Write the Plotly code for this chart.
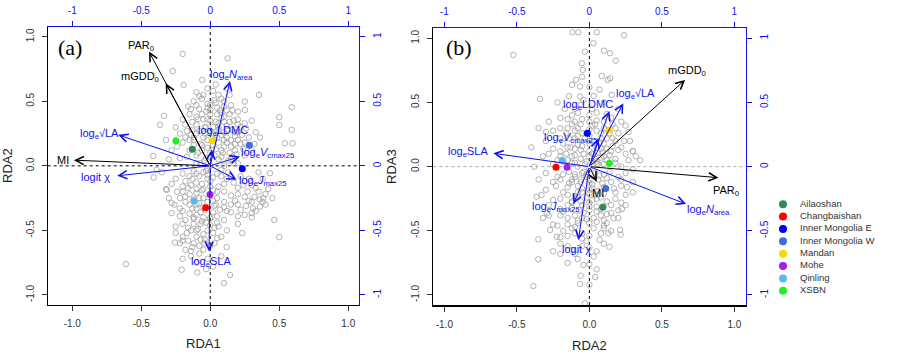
import plotly.graph_objects as go

W, H = 899, 364

# ---------------- data ----------------
sites = ["Ailaoshan", "Changbaishan", "Inner Mongolia E", "Inner Mongolia W",
         "Mandan", "Mohe", "Qinling", "XSBN"]
site_colors = ["#2E8B57", "#FF0000", "#0000FF", "#4169E1",
               "#FFD700", "#A020F0", "#5CB8F5", "#22EE22"]

site_a_x = [-0.130, -0.033, 0.232, 0.283, 0.012, -0.002, -0.118, -0.249]
site_a_y = [0.129, -0.325, -0.023, 0.160, 0.194, -0.222, -0.273, 0.194]
site_b_x = [0.092, -0.230, -0.014, 0.113, 0.138, -0.154, -0.188, 0.138]
site_b_y = [-0.317, -0.005, 0.260, -0.171, 0.286, -0.005, 0.047, 0.026]

# arrows (biplot scores) panel a: RDA1 vs RDA2
env_a_labels = ["PAR<sub>0</sub>", "mGDD<sub>0</sub>", "MI"]
env_a_x = [-0.444, -0.323, -0.988]
env_a_y = [0.885, 0.640, 0.044]
trait_a_labels = ["log<sub>e</sub>√LA", "logit χ", "log<sub>e</sub><i>N</i><sub>area</sub>",
                  "log<sub>e</sub>LDMC", "log<sub>e</sub><i>V</i><sub>cmax25</sub>",
                  "log<sub>e</sub><i>J</i><sub>max25</sub>", "log<sub>e</sub>SLA"]
trait_a_x = [-0.667, -0.674, 0.143, 0.012, 0.215, 0.191, -0.009]
trait_a_y = [0.240, -0.077, 0.658, 0.127, 0.072, -0.108, -0.663]

# arrows panel b: RDA2 vs RDA3
env_b_labels = ["mGDD<sub>0</sub>", "PAR<sub>0</sub>", "MI"]
env_b_x = [0.660, 0.890, 0.051]
env_b_y = [0.676, -0.086, -0.117]
trait_b_labels = ["log<sub>e</sub>SLA", "log<sub>e</sub><i>N</i><sub>area</sub>",
                  "log<sub>e</sub><i>J</i><sub>max25</sub>", "logit χ",
                  "log<sub>e</sub><i>V</i><sub>cmax25</sub>", "log<sub>e</sub>LDMC",
                  "log<sub>e</sub>√LA"]
trait_b_x = [-0.662, 0.667, -0.110, -0.076, 0.062, 0.138, 0.234]
trait_b_y = [0.104, -0.291, -0.291, -0.571, 0.221, 0.434, 0.494]

# sample scores (grey circles), panel a
cloud_a_x = [
    -0.20, 0.126, -0.272, -0.193, -0.058, 0.353, 0.59, -0.335, 0.5, 0.5, 0.251, 0.251, -0.364, 0.59, 0.541, 0.597,
    -0.413, -0.389, -0.41, -0.316, -0.28, -0.28, -0.256, -0.611, -0.207, -0.094, 0.143, 0.099, 0.119, 0.232, 0.5,
    0.464, 0.384, 0.433, 0.36, 0.30,
    -0.05, 0.02, 0.08, -0.12, 0.12, -0.02, 0.05, 0.15, -0.08, 0.2, -0.15, 0.0, 0.1, -0.2, -0.05, 0.06, 0.17, 0.25,
    -0.1, -0.25, 0.02, 0.12, -0.17, 0.2, -0.04, 0.08, 0.28, -0.12, 0.15, 0.03, -0.2, 0.22, -0.07, 0.1, 0.3, -0.15,
    0.18, 0.0, 0.25, -0.1, 0.08, -0.22, 0.15, -0.04, 0.2, -0.3, 0.33, 0.3, -0.32, 0.14,
    -0.05, 0.05, -0.15, 0.15, -0.25, 0.0, -0.1, 0.1, 0.25, -0.2, 0.2, 0.3, -0.05, 0.05, -0.15, 0.35, 0.15, 0.25,
    -0.08, -0.22, 0.02, 0.1, 0.3, -0.15, 0.2, -0.05, 0.4, 0.07, -0.2, 0.15, -0.1, 0.25, 0.0, -0.18, 0.1, -0.07,
    0.2, -0.25, 0.03, -0.14, 0.12, -0.05, -0.2, 0.05, -0.12, 0.0, -0.08, -0.18, 0.08, -0.1, -0.03, 0.45, 0.33,
    0.38, 0.42,
    -0.1, 0.0, 0.1, -0.06, 0.04, 0.14, -0.12, 0.06, -0.02, 0.12, -0.08, 0.0, 0.16, 0.06, -0.13, 0.1, 0.0, -0.06,
    0.05, -0.02, 0.1, 0.03, -0.1, 0.18, 0.22, -0.18, -0.02, -0.12, 0.08, -0.02, -0.18, 0.12, -0.1, 0.0, 0.1, -0.2,
    -0.12, 0.05, -0.02, 0.18, -0.1, 0.02, -0.15, 0.1, -0.05, 0.05, -0.12, -0.02, 0.08, -0.1, -0.16, -0.04, 0.27,
    0.32, 0.22, 0.28, 0.35, 0.22, 0.38, 0.3,
    -0.03, 0.03, 0.09, -0.09, 0.15, 0.2, 0.25, 0.12, 0.05, -0.05, -0.15, -0.22, -0.1, 0.02, 0.1, 0.18, 0.23,
    -0.03, 0.04, 0.12, -0.09, -0.18, 0.08, -0.03, 0.07, 0.0, -0.06, 0.06, -0.14, 0.16, 0.1, -0.02, 0.04, -0.1,
    0.14, 0.2, 0.26, 0.19, 0.24, -0.17, -0.13, -0.24, -0.28, 0.32, 0.36, -0.02, 0.08, 0.13, -0.07, 0.17,
    -0.03, -0.08, -0.2, 0.02, -0.13, -0.28, -0.06, 0.06, -0.16, -0.24, -0.1, 0.0, -0.05, -0.18, -0.26, -0.08,
    0.03, -0.13, -0.22, -0.07, 0.05, -0.12, -0.2, -0.03, 0.0, -0.09, -0.17, -0.25, 0.02, -0.07, -0.13, -0.22,
    -0.05, 0.03, -0.14, -0.02, -0.2, 0.02, 0.12, 0.17, 0.2, 0.24, 0.28, 0.33, 0.36, 0.26, 0.15, 0.31, 0.2, 0.08,
    0.13, 0.4, -0.32, -0.35, -0.3,
    -0.06, 0.02, 0.1, -0.14, 0.18, -0.04, 0.06, 0.14, -0.1, 0.0, 0.08, -0.16, 0.04, -0.08, 0.12, -0.02, 0.2,
    -0.12, 0.06, 0.16, -0.1, -0.02, -0.14, -0.06, 0.02, -0.18, -0.1, -0.04, -0.22, 0.04, -0.12, -0.06, -0.16,
    0.0, -0.1, -0.2, 0.06, -0.04, -0.14, -0.08,
]
cloud_a_y = [
    0.867, 0.833, 0.735, 0.627, 0.666, 0.55, 0.454, 0.387, 0.377, 0.317, 0.498, 0.433, 0.317, 0.279, 0.175, 0.175,
    0.077, -0.031, -0.09, -0.186, -0.289, -0.366, -0.594, -0.761, -0.805, -0.826, -0.846, -0.908, -0.629, -0.521,
    -0.552, -0.418, -0.25, -0.057, -0.315, -0.366,
    0.55, 0.58, 0.52, 0.5, 0.6, 0.48, 0.45, 0.47, 0.44, 0.42, 0.4, 0.4, 0.38, 0.36, 0.36, 0.33, 0.35, 0.33,
    0.32, 0.3, 0.3, 0.28, 0.27, 0.26, 0.25, 0.24, 0.22, 0.22, 0.2, 0.2, 0.18, 0.17, 0.17, 0.15, 0.12, 0.12,
    0.12, 0.1, 0.08, 0.08, 0.07, 0.06, 0.05, 0.04, 0.02, 0.05, 0.26, 0.35, 0.2, 0.4,
    -0.05, -0.06, -0.08, -0.08, -0.1, -0.12, -0.13, -0.14, -0.12, -0.16, -0.17, -0.15, -0.18, -0.2, -0.22, -0.2,
    -0.23, -0.24, -0.25, -0.25, -0.27, -0.28, -0.28, -0.3, -0.3, -0.32, -0.3, -0.34, -0.35, -0.36, -0.38, -0.38,
    -0.4, -0.42, -0.42, -0.45, -0.45, -0.47, -0.48, -0.5, -0.5, -0.53, -0.55, -0.56, -0.6, -0.62, -0.68, -0.65,
    -0.7, -0.75, -0.8, -0.25, -0.35, -0.1, -0.18,
    0.02, 0.0, 0.0, 0.12, 0.13, 0.1, 0.16, 0.18, 0.2, 0.22, 0.27, 0.27, 0.28, 0.3, 0.34, 0.34, 0.35, 0.4,
    0.4, 0.45, 0.46, 0.51, 0.47, 0.23, 0.3, 0.22, -0.02, -0.04, -0.03, -0.1, -0.12, -0.1, -0.18, -0.16, -0.2, -0.2,
    -0.26, -0.25, -0.28, -0.27, -0.33, -0.36, -0.37, -0.32, -0.4, -0.44, -0.45, -0.5, -0.55, -0.55, -0.58, -0.6,
    -0.2, -0.24, -0.34, -0.1, -0.05, -0.08, -0.28, -0.4,
    0.06, 0.08, 0.1, 0.1, 0.15, 0.2, 0.18, 0.18, 0.22, 0.22, 0.2, 0.25, 0.25, 0.25, 0.26, 0.17, 0.24,
    0.3, 0.34, 0.31, 0.36, 0.32, 0.37, 0.42, 0.43, 0.47, 0.52, 0.55, 0.44, 0.43, 0.5, 0.6, 0.63, 0.57,
    0.55, 0.36, 0.29, 0.09, 0.13, 0.07, 0.28, 0.15, 0.12, 0.17, 0.22, 0.14, 0.12, 0.04, 0.02, 0.02,
    -0.04, -0.08, -0.06, -0.09, -0.1, -0.14, -0.14, -0.16, -0.17, -0.2, -0.21, -0.22, -0.25, -0.28, -0.3, -0.29,
    -0.31, -0.33, -0.39, -0.36, -0.39, -0.41, -0.45, -0.44, -0.46, -0.49, -0.52, -0.52, -0.52, -0.57, -0.63, -0.6,
    -0.65, -0.6, -0.7, -0.72, -0.72, -0.78, -0.35, -0.13, -0.22, -0.15, -0.27, -0.17, -0.26, -0.31, -0.3, -0.33,
    -0.39, -0.08, -0.05, -0.22, -0.18, -0.05, -0.25,
    0.16, 0.16, 0.2, 0.24, 0.26, 0.3, 0.28, 0.34, 0.38, 0.43, 0.41, 0.46, 0.49, 0.54, 0.43, 0.36, 0.32,
    0.2, 0.05, 0.07, -0.06, -0.07, -0.15, -0.19, -0.19, -0.24, -0.3, -0.34, -0.33, -0.3, -0.4, -0.43, -0.48,
    -0.41, -0.5, -0.58, -0.47, -0.57, -0.66, -0.62,
]

# sample scores (grey circles), panel b
cloud_b_x = [
    -0.117, -0.076, 0.051, 0.239, 0.028, 0.101, 0.142, 0.182, -0.524, -0.03, -0.052, -0.046, -0.092, -0.119,
    -0.064, 0.085, 0.143, 0.127, -0.34, -0.064, 0.154,
    -0.352, -0.352, -0.386, -0.064, -0.041, -0.03, 0.131, 0.138, 0.216, 0.166, 0.212, 0.224, -0.363, -0.294,
    -0.271, -0.225, 0.3, 0.32,
    -0.28, -0.2, -0.12, -0.05, 0.05, 0.15, 0.22, -0.25, -0.15, -0.08, 0.02, 0.1, 0.18, 0.27, -0.3, -0.2, -0.1,
    0.0, 0.08, 0.16, 0.24, -0.25, -0.15, -0.05, 0.05, 0.12, 0.2, 0.3, -0.32, -0.2, -0.1, 0.0, 0.08, 0.18, 0.27,
    0.35, -0.25, -0.12, 0.05, 0.22, -0.17, 0.1, -0.06, 0.03, -0.22, 0.2, -0.35, -0.4,
    -0.3, -0.18, -0.05, 0.1, 0.25, -0.25, -0.12, 0.0, 0.15, 0.3, -0.3, -0.18, -0.05, 0.05, 0.18, -0.25, -0.12,
    0.0, 0.12, 0.22, -0.2, -0.07, 0.05, 0.15, -0.28, -0.15, -0.02, 0.1, 0.2, -0.22, -0.1, 0.03, 0.15, -0.15,
    -0.05, 0.07, -0.2, -0.12, 0.0, -0.08, 0.03, -0.25, -0.15, 0.05, -0.06, 0.1,
    -0.08, 0.0, 0.1, -0.15, -0.04, 0.06, 0.14, -0.1, 0.0, 0.1, -0.18, -0.05, 0.05, 0.14, -0.12, 0.0, 0.1, -0.08,
    -0.02, 0.06, -0.1, -0.2, 0.2, -0.08, 0.1, -0.15, 0.02, 0.22, -0.1, 0.08, -0.02, 0.15, -0.15, 0.05, -0.05,
    -0.1, 0.08, 0.0, -0.18, 0.1, -0.05, 0.2, 0.25, 0.3, -0.35, -0.38, -0.33, 0.28,
    -0.02, 0.04, 0.1, -0.06, -0.12, -0.2, 0.0, 0.08, 0.16, -0.08, -0.14, 0.03, 0.12, 0.2, -0.03, -0.1, 0.08,
    0.0, -0.2, 0.16, -0.06, 0.05, -0.15, 0.12, 0.02, -0.1, -0.04, -0.14, 0.07, -0.05, 0.0, 0.25, 0.22, 0.18,
    -0.22, -0.28, -0.3, 0.25, 0.06, -0.16,
    -0.04, 0.04, 0.14, -0.14, -0.22, -0.12, 0.0, 0.12, 0.17, -0.06, -0.23, -0.05, 0.06, -0.15, -0.2, 0.1, -0.08,
    0.0, -0.06, 0.02, 0.1, -0.12, -0.2, 0.0, 0.12, -0.05, -0.15, 0.05, 0.12, -0.08, -0.1, 0.0, -0.2, 0.08, -0.15,
    -0.05, 0.05, -0.1, 0.0, -0.2, 0.22, 0.26, 0.18, 0.25, 0.3, -0.28, -0.32, -0.25, 0.0, 0.04,
    -0.03, 0.05, 0.12, -0.1, -0.18, 0.02, 0.09, -0.06, 0.15, -0.13, 0.0, 0.07, -0.02, 0.11, -0.08, -0.16, 0.04,
    0.18, -0.1, 0.0, -0.02, 0.07, -0.1, 0.02, -0.06, 0.09, -0.14, 0.0, -0.08, 0.05, -0.12, 0.0, -0.04, 0.08,
    -0.18, -0.08, 0.03, -0.12, 0.1, -0.02,
]
cloud_b_y = [
    1.047, 1.047, 1.047, 1.024, 0.962, 0.904, 0.884, 0.826, 0.871, 0.896, 0.806, 0.754, 0.676, 0.637, 0.624,
    0.707, 0.689, 0.676, 0.528, 0.546, 0.559,
    -0.566, -0.722, -0.93, -0.914, -0.766, -1.065, -0.519, -0.624, -0.53, -0.402, -0.493, -0.33, -0.234, -0.364,
    -0.493, -0.546, 0.12, 0.08,
    0.35, 0.38, 0.4, 0.37, 0.42, 0.38, 0.35, 0.28, 0.3, 0.3, 0.32, 0.3, 0.3, 0.27, 0.2, 0.22, 0.22, 0.24, 0.22,
    0.22, 0.2, 0.14, 0.15, 0.16, 0.15, 0.14, 0.13, 0.12, 0.08, 0.08, 0.09, 0.08, 0.07, 0.06, 0.05, 0.05, 0.02,
    0.03, 0.02, 0.0, 0.45, 0.5, 0.48, 0.55, 0.5, 0.45, 0.3, 0.15,
    -0.05, -0.06, -0.05, -0.06, -0.05, -0.12, -0.12, -0.13, -0.12, -0.12, -0.18, -0.2, -0.2, -0.22, -0.2,
    -0.26, -0.27, -0.28, -0.27, -0.28, -0.33, -0.34, -0.35, -0.36, -0.38, -0.4, -0.41, -0.42, -0.4, -0.46,
    -0.47, -0.48, -0.5, -0.54, -0.56, -0.57, -0.6, -0.65, -0.63, -0.72, -0.7, -0.66, -0.75, -0.8, -0.85, -0.6,
    0.0, -0.02, 0.02, 0.05, 0.1, 0.11, 0.09, 0.14, 0.18, 0.18, 0.18, 0.26, 0.28, 0.26, 0.33, 0.35, 0.35, 0.42,
    -0.08, -0.1, -0.08, -0.1, -0.08, -0.15, -0.16, -0.16, -0.17, -0.15, -0.23, -0.24, -0.24, -0.3, -0.3, -0.31,
    -0.3, -0.38, -0.38, -0.44, -0.5, -0.48, -0.52, -0.34, -0.22, -0.02, -0.1, 0.0, -0.22, 0.2,
    0.04, 0.06, 0.08, 0.06, 0.08, 0.12, 0.12, 0.14, 0.16, 0.17, 0.22, 0.2, 0.22, 0.26, 0.22, 0.28, 0.26,
    0.29, 0.3, 0.33, 0.33, 0.36, 0.37, 0.41, 0.45, 0.45, 0.52, 0.55, 0.6, 0.7, 0.62, 0.1, 0.15, 0.03,
    0.05, 0.1, 0.27, 0.32, 0.02, 0.1,
    -0.04, -0.05, -0.04, -0.04, -0.08, -0.1, -0.1, -0.09, -0.17, -0.12, -0.15, -0.17, -0.19, -0.22, -0.25, -0.21,
    -0.2, -0.21, -0.27, -0.26, -0.31, -0.32, -0.38, -0.34, -0.37, -0.4, -0.45, -0.43, -0.44, -0.44, -0.52, -0.54,
    -0.55, -0.52, -0.62, -0.62, -0.66, -0.68, -0.76, -0.68, -0.1, -0.16, -0.25, -0.3, -0.2, -0.3, -0.4, -0.45,
    -0.92, -0.86,
    0.02, 0.04, 0.05, 0.03, 0.04, 0.1, 0.11, 0.13, 0.12, 0.15, 0.2, 0.19, 0.26, 0.29, 0.24, 0.26, 0.33,
    0.2, 0.35, 0.4, -0.06, -0.07, -0.06, -0.14, -0.1, -0.13, -0.13, -0.18, -0.24, -0.25, -0.28, -0.31, -0.36,
    -0.33, -0.35, -0.42, -0.4, -0.48, -0.46, -0.58,
]

x_ticks = [-1, -0.5, 0, 0.5, 1]
x_ticktext = ["-1.0", "-0.5", "0.0", "0.5", "1.0"]
top_ticktext = ["-1", "-0.5", "0", "0.5", "1"]

# ---------------- styling / layout helpers ----------------
FONT = "Liberation Sans, Arial, sans-serif"
SERIF = "Liberation Serif, Times New Roman, serif"
BLUE = "#1010F0"
TICKCOL = "#333333"

def px_x(p):
    return p / W

def px_y(p):
    return 1 - p / H

dom_a_x = [px_x(47.7), px_x(359.3)]
dom_a_y = [px_y(305), px_y(26.7)]
dom_b_x = [px_x(433.3), px_x(746)]
dom_b_y = [px_y(305), px_y(28.3)]
rng_a_x = [-1.178, 1.080]
rng_a_y = [-1.078, 1.078]
rng_b_x = [-1.076, 1.080]
rng_b_y = [-1.078, 1.078]

fig = go.Figure()

def add_panel(xa, ya, cx, cy, sx, sy):
    fig.add_trace(go.Scatter(x=cx, y=cy, xaxis=xa, yaxis=ya, mode="markers",
                             marker=dict(symbol="circle-open", size=5.5, color="#a0a0a0",
                                         line=dict(width=0.8, color="#a0a0a0")),
                             showlegend=False, hoverinfo="skip"))
    fig.add_trace(go.Scatter(x=sx, y=sy, xaxis=xa, yaxis=ya, mode="markers",
                             marker=dict(size=7, color=site_colors, line=dict(width=0)),
                             showlegend=False, text=sites, hoverinfo="text"))

add_panel("x", "y", cloud_a_x, cloud_a_y, site_a_x, site_a_y)
add_panel("x3", "y3", cloud_b_x, cloud_b_y, site_b_x, site_b_y)

# invisible traces so the secondary (top/right) axes are drawn
for xa, ya in [("x2", "y2"), ("x4", "y4")]:
    fig.add_trace(go.Scatter(x=[0], y=[0], xaxis=xa, yaxis=ya, mode="markers",
                             marker=dict(opacity=0), showlegend=False, hoverinfo="skip"))

# legend drawn on its own hidden axis
leg_rows = list(range(1, len(sites) + 1))
fig.add_trace(go.Scatter(x=[13] * len(sites), y=leg_rows, xaxis="x5", yaxis="y5", mode="markers",
                         marker=dict(size=8, color=site_colors), showlegend=False, hoverinfo="skip"))
fig.add_trace(go.Scatter(x=[30] * len(sites), y=leg_rows, xaxis="x5", yaxis="y5", mode="text",
                         text=sites, textposition="middle right",
                         textfont=dict(family=FONT, size=9.5, color="#333333"),
                         showlegend=False, hoverinfo="skip"))

def bottom_axis(dom, rng, anchor, lw=1):
    return dict(domain=dom, range=rng, anchor=anchor, tickvals=x_ticks, ticktext=x_ticktext,
                ticks="outside", ticklen=5, tickcolor="#333333", showline=True, linecolor="black",
                linewidth=lw, showgrid=False, zeroline=False, mirror=False,
                tickfont=dict(family=FONT, size=10, color=TICKCOL), ticklabelstandoff=4)

def left_axis(dom, rng, anchor):
    return dict(domain=dom, range=rng, anchor=anchor, tickvals=x_ticks[::-1],
                ticktext=x_ticktext[::-1], tickangle=-90,
                ticks="outside", ticklen=5, tickcolor="#333333", showline=True, linecolor="black",
                linewidth=1, showgrid=False, zeroline=False, mirror=False,
                tickfont=dict(family=FONT, size=10, color=TICKCOL), ticklabelstandoff=4)

def top_axis(rng, over, anchor):
    return dict(overlaying=over, side="top", range=rng, anchor=anchor, tickvals=x_ticks,
                ticktext=top_ticktext, ticks="outside", ticklen=5, tickcolor=BLUE,
                showline=True, linecolor=BLUE, linewidth=1, showgrid=False, zeroline=False,
                tickfont=dict(family=FONT, size=10, color=BLUE), ticklabelstandoff=3)

def right_axis(rng, over, anchor):
    return dict(overlaying=over, side="right", range=rng, anchor=anchor, tickvals=x_ticks[::-1],
                ticktext=top_ticktext[::-1], tickangle=-90, ticks="outside", ticklen=5,
                tickcolor=BLUE, showline=True, linecolor=BLUE, linewidth=1, showgrid=False,
                zeroline=False, tickfont=dict(family=FONT, size=10, color=BLUE),
                ticklabelstandoff=4)

annotations = []
shapes = []

def arrow(xr, yr, x, y, color):
    annotations.append(dict(x=x, y=y, ax=0, ay=0, xref=xr, yref=yr, axref=xr, ayref=yr,
                            text="", showarrow=True, arrowhead=5, arrowsize=1.6,
                            arrowwidth=1, arrowcolor=color, standoff=0, startstandoff=0))

def label(xr, yr, x, y, text, color, xanchor="center"):
    annotations.append(dict(x=x, y=y, xref=xr, yref=yr, text=text, showarrow=False,
                            xanchor=xanchor, yanchor="middle",
                            font=dict(family=FONT, size=11, color=color)))

for x, y in zip(env_a_x, env_a_y):
    arrow("x", "y", x, y, "black")
for x, y in zip(trait_a_x, trait_a_y):
    arrow("x", "y", x, y, BLUE)
for x, y in zip(env_b_x, env_b_y):
    arrow("x3", "y3", x, y, "black")
for x, y in zip(trait_b_x, trait_b_y):
    arrow("x3", "y3", x, y, BLUE)

# label placements (positions only)
env_a_lab_pos = [(-0.50, 0.93, "center"), (-0.36, 0.687, "right"), (-1.07, 0.046, "center")]
trait_a_lab_pos = [(-0.806, 0.245), (-0.835, -0.083), (0.155, 0.70), (0.09, 0.273),
                   (0.416, 0.098), (0.384, -0.114), (0.005, -0.745)]
env_b_lab_pos = [(0.674, 0.746), (0.943, -0.187), (0.058, -0.203)]
trait_b_lab_pos = [(-0.836, 0.117), (0.82, -0.338), (-0.23, -0.317), (-0.092, -0.644),
                   (-0.13, 0.226), (-0.007, 0.481), (0.32, 0.564)]

for (x, y, xa), t in zip(env_a_lab_pos, env_a_labels):
    label("x", "y", x, y, t, "black", xa)
for (x, y), t in zip(trait_a_lab_pos, trait_a_labels):
    label("x", "y", x, y, t, BLUE)
for (x, y), t in zip(env_b_lab_pos, env_b_labels):
    label("x3", "y3", x, y, t, "black")
for (x, y), t in zip(trait_b_lab_pos, trait_b_labels):
    label("x3", "y3", x, y, t, BLUE)

def paper_text(x, y, t, font, ang=0):
    annotations.append(dict(x=px_x(x), y=px_y(y), xref="paper", yref="paper", text=t,
                            textangle=ang, showarrow=False, xanchor="center", yanchor="middle",
                            font=font))

paper_text(70, 48, "(a)", dict(family=SERIF, size=22, color="black"))
paper_text(459, 48, "(b)", dict(family=SERIF, size=22, color="black"))
title_font = dict(family=FONT, size=13, color="#222222")
paper_text(203, 343, "RDA1", title_font)
paper_text(589, 345, "RDA2", title_font)
paper_text(8, 166, "RDA2", title_font, -90)
paper_text(392, 167, "RDA3", title_font, -90)

shapes.append(dict(type="line", xref="x", yref="y", x0=0, x1=0, y0=rng_a_y[0], y1=rng_a_y[1],
                   line=dict(color="black", width=1, dash="dot"), layer="below"))
shapes.append(dict(type="line", xref="x", yref="y", x0=rng_a_x[0], x1=rng_a_x[1], y0=0, y1=0,
                   line=dict(color="black", width=1, dash="dot"), layer="below"))
shapes.append(dict(type="line", xref="x3", yref="y3", x0=0, x1=0, y0=rng_b_y[0], y1=rng_b_y[1],
                   line=dict(color="black", width=1, dash="dot"), layer="below"))
shapes.append(dict(type="line", xref="x3", yref="y3", x0=rng_b_x[0], x1=rng_b_x[1], y0=0, y1=0,
                   line=dict(color="#aaaaaa", width=1, dash="dot"), layer="below"))

fig.update_layout(
    width=W, height=H, margin=dict(l=0, r=0, t=0, b=0), autosize=False,
    paper_bgcolor="white", plot_bgcolor="white", showlegend=False,
    xaxis=bottom_axis(dom_a_x, rng_a_x, "y"),
    yaxis=left_axis(dom_a_y, rng_a_y, "x"),
    xaxis2=top_axis(rng_a_x, "x", "y"),
    yaxis2=right_axis(rng_a_y, "y", "x"),
    xaxis3=bottom_axis(dom_b_x, rng_b_x, "y3", lw=2),
    yaxis3=left_axis(dom_b_y, rng_b_y, "x3"),
    xaxis4=top_axis(rng_b_x, "x3", "y3"),
    yaxis4=right_axis(rng_b_y, "y3", "x3"),
    xaxis5=dict(domain=[px_x(770), 1], range=[0, 129], visible=False, anchor="y5"),
    yaxis5=dict(domain=[px_y(297), px_y(198)], range=[8.5, 0.5], visible=False, anchor="x5"),
    annotations=annotations, shapes=shapes,
)

fig.write_html("out.html", config={"responsive": False, "displayModeBar": False},
               post_script="document.body.style.margin='0';document.body.style.padding='0';")
